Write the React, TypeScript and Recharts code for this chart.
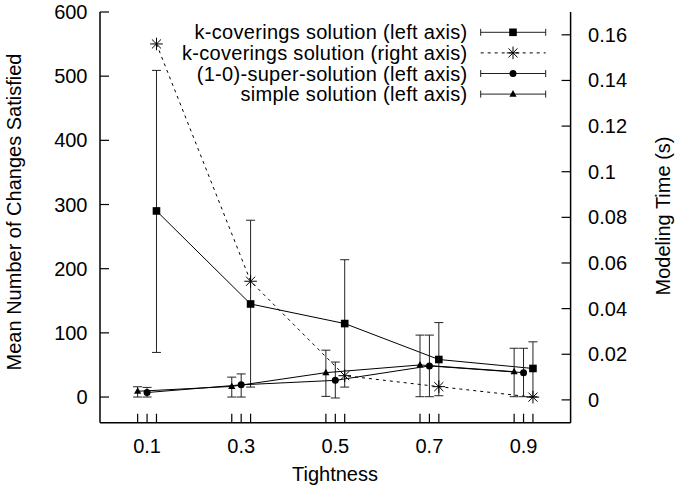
import React from 'react';
import { ComposedChart, Line, XAxis, YAxis, ErrorBar, Customized } from 'recharts';

// simple solution (left axis)
const xSimple = [0.08, 0.28, 0.48, 0.68, 0.88];
const simpleMean = [9, 16.5, 38, 50, 39.5];
const simpleLow = [0, 0, 1, 0.5, 0.5];
const simpleHigh = [16, 31, 73, 96.5, 76];

// (1-0)-super-solution (left axis)
const xSuper = [0.1, 0.3, 0.5, 0.7, 0.9];
const superMean = [7, 19, 26, 48.5, 38];
const superLow = [0, 0, -1.5, 0.5, 0.5];
const superHigh = [15, 36, 54.5, 96.5, 76];

// k-coverings solution (left axis + right axis)
const xKcov = [0.12, 0.32, 0.52, 0.72, 0.92];
const kcovMean = [290, 145, 114.5, 58.5, 44.5];
const kcovLow = [69.5, 15.5, 15.5, 2, 0.5];
const kcovHigh = [509, 275.5, 214, 116, 86];
const kcovTime = [0.156, 0.052, 0.0106, 0.0058, 0.0012];

const xTickLabels = [0.1, 0.3, 0.5, 0.7, 0.9];
const leftTicks = [0, 100, 200, 300, 400, 500, 600];
const rightTicks = [0, 0.02, 0.04, 0.06, 0.08, 0.1, 0.12, 0.14, 0.16];
const legendLabels = [
  'k-coverings solution (left axis)',
  'k-coverings solution (right axis)',
  '(1-0)-super-solution (left axis)',
  'simple solution (left axis)',
];

const FONT = '"Liberation Sans", Arial, Helvetica, sans-serif';
const FS = 20;

const withErr = (xs: number[], mean: number[], low: number[], high: number[]) =>
  xs.map((x, i) => ({ x, y: mean[i], err: [mean[i] - low[i], high[i] - mean[i]] }));

const simpleData = withErr(xSimple, simpleMean, simpleLow, simpleHigh);
const superData = withErr(xSuper, superMean, superLow, superHigh);
const kcovData = withErr(xKcov, kcovMean, kcovLow, kcovHigh);
const timeData = xKcov.map((x, i) => ({ x, t: kcovTime[i] }));

const xTickPositions = [...xSimple, ...xSuper, ...xKcov].sort((a, b) => a - b);

const fmt = (v: number) => String(Number(v.toFixed(3)));

const Square = (cx: number, cy: number, key?: any) => (
  <rect key={key} x={cx - 3.8} y={cy - 3.8} width={7.6} height={7.6} fill="#000" />
);
const Circle = (cx: number, cy: number, key?: any) => (
  <circle key={key} cx={cx} cy={cy} r={3.5} fill="#000" />
);
const Triangle = (cx: number, cy: number, key?: any) => (
  <path key={key} d={`M${cx},${cy - 4} L${cx + 3.6},${cy + 2.6} L${cx - 3.6},${cy + 2.6} Z`} fill="#000" />
);
const Star = (cx: number, cy: number, key?: any) => {
  const r = 6.3;
  const d = r * 0.72;
  return (
    <g key={key} stroke="#000" strokeWidth={1}>
      <line x1={cx - r} y1={cy} x2={cx + r} y2={cy} />
      <line x1={cx} y1={cy - r} x2={cx} y2={cy + r} />
      <line x1={cx - d} y1={cy - d} x2={cx + d} y2={cy + d} />
      <line x1={cx - d} y1={cy + d} x2={cx + d} y2={cy - d} />
    </g>
  );
};

const dotFn = (shape: (cx: number, cy: number, key?: any) => any) => (props: any) =>
  shape(props.cx, props.cy, `d-${props.index}`);

const XTick = (props: any) => {
  const { x, y, payload } = props;
  const v = payload.value;
  const show = xTickLabels.some((t) => Math.abs(t - v) < 1e-9);
  return (
    <g>
      <line x1={x} x2={x} y1={y} y2={y - 9} stroke="#000" strokeWidth={1.2} />
      {show && (
        <text x={x} y={y + 30} textAnchor="middle" fontFamily={FONT} fontSize={FS} fill="#000">
          {fmt(v)}
        </text>
      )}
    </g>
  );
};

const LeftTick = (props: any) => {
  const { x, y, payload } = props;
  return (
    <g>
      <line x1={x} x2={x + 9} y1={y} y2={y} stroke="#000" strokeWidth={1.2} />
      <text x={x - 12.5} y={y + 7} textAnchor="end" fontFamily={FONT} fontSize={FS} fill="#000">
        {fmt(payload.value)}
      </text>
    </g>
  );
};

const RightTick = (props: any) => {
  const { x, y, payload } = props;
  return (
    <g>
      <line x1={x} x2={x - 9} y1={y} y2={y} stroke="#000" strokeWidth={1.2} />
      <text x={x + 17.5} y={y + 7} textAnchor="start" fontFamily={FONT} fontSize={FS} fill="#000">
        {fmt(payload.value)}
      </text>
    </g>
  );
};

const Overlay = () => {
  const rowY = [32.3, 52.9, 73.5, 94.1];
  const textRight = 467.5;
  const lx1 = 480.7;
  const lx2 = 545.7;
  const mx = 513;
  const shapes = [Square, Star, Circle, Triangle];
  return (
    <g fontFamily={FONT} fontSize={FS} fill="#000">
      {legendLabels.map((lab, i) => (
        <g key={i}>
          <text x={textRight} y={rowY[i] + 7} textAnchor="end" letterSpacing={0.3}>
            {lab}
          </text>
          {i === 1 ? (
            <line x1={lx1} x2={lx2} y1={rowY[i]} y2={rowY[i]} stroke="#000" strokeWidth={1} strokeDasharray="3 4" />
          ) : (
            <g stroke="#222" strokeWidth={1}>
              <line x1={lx1} x2={lx2} y1={rowY[i]} y2={rowY[i]} />
              <line x1={lx1} x2={lx1} y1={rowY[i] - 3.5} y2={rowY[i] + 3.5} />
              <line x1={lx2} x2={lx2} y1={rowY[i] - 3.5} y2={rowY[i] + 3.5} />
            </g>
          )}
          {shapes[i](mx, rowY[i])}
        </g>
      ))}
      <text transform="translate(21,212) rotate(-90)" textAnchor="middle">
        Mean Number of Changes Satisfied
      </text>
      <text transform="translate(669.5,216) rotate(-90)" textAnchor="middle">
        Modeling Time (s)
      </text>
      <text x={335} y={481} textAnchor="middle">
        Tightness
      </text>
    </g>
  );
};

export default function App() {
  return (
    <div style={{ position: 'absolute', left: 0, top: 0, background: '#fff' }}>
      <ComposedChart width={681} height={489} margin={{ top: 12, right: 0, bottom: 0, left: 0 }}>
        <XAxis
          xAxisId={0}
          dataKey="x"
          type="number"
          domain={[0, 1]}
          allowDataOverflow
          ticks={xTickPositions}
          interval={0}
          height={66.3}
          tickSize={0}
          tickMargin={0}
          tickLine={false}
          tick={<XTick />}
          axisLine={{ stroke: '#000', strokeWidth: 1.5 }}
        />
        <XAxis
          xAxisId="top"
          orientation="top"
          type="number"
          domain={[0, 1]}
          height={0}
          tick={false}
          tickLine={false}
          axisLine={{ stroke: '#000', strokeWidth: 1.5 }}
        />
        <YAxis
          yAxisId="left"
          type="number"
          domain={[-40, 600]}
          allowDataOverflow
          ticks={leftTicks}
          interval={0}
          width={100}
          tickSize={0}
          tickMargin={0}
          tickLine={false}
          tick={<LeftTick />}
          axisLine={{ stroke: '#000', strokeWidth: 1.5 }}
        />
        <YAxis
          yAxisId="right"
          orientation="right"
          type="number"
          domain={[-0.01, 0.17]}
          allowDataOverflow
          ticks={rightTicks}
          interval={0}
          width={110.4}
          tickSize={0}
          tickMargin={0}
          tickLine={false}
          tick={<RightTick />}
          axisLine={{ stroke: '#000', strokeWidth: 1.5 }}
        />
        <Line
          data={kcovData}
          dataKey="y"
          yAxisId="left"
          type="linear"
          stroke="#000"
          strokeWidth={1}
          dot={dotFn(Square)}
          activeDot={false}
          isAnimationActive={false}
        >
          <ErrorBar dataKey="err" direction="y" width={4.5} stroke="#222" strokeWidth={1} />
        </Line>
        <Line
          data={timeData}
          dataKey="t"
          yAxisId="right"
          type="linear"
          stroke="#000"
          strokeWidth={1}
          strokeDasharray="3 4"
          dot={dotFn(Star)}
          activeDot={false}
          isAnimationActive={false}
        />
        <Line
          data={superData}
          dataKey="y"
          yAxisId="left"
          type="linear"
          stroke="#000"
          strokeWidth={1}
          dot={dotFn(Circle)}
          activeDot={false}
          isAnimationActive={false}
        >
          <ErrorBar dataKey="err" direction="y" width={4.5} stroke="#222" strokeWidth={1} />
        </Line>
        <Line
          data={simpleData}
          dataKey="y"
          yAxisId="left"
          type="linear"
          stroke="#000"
          strokeWidth={1}
          dot={dotFn(Triangle)}
          activeDot={false}
          isAnimationActive={false}
        >
          <ErrorBar dataKey="err" direction="y" width={4.5} stroke="#222" strokeWidth={1} />
        </Line>
        <Customized component={Overlay} />
      </ComposedChart>
    </div>
  );
}
